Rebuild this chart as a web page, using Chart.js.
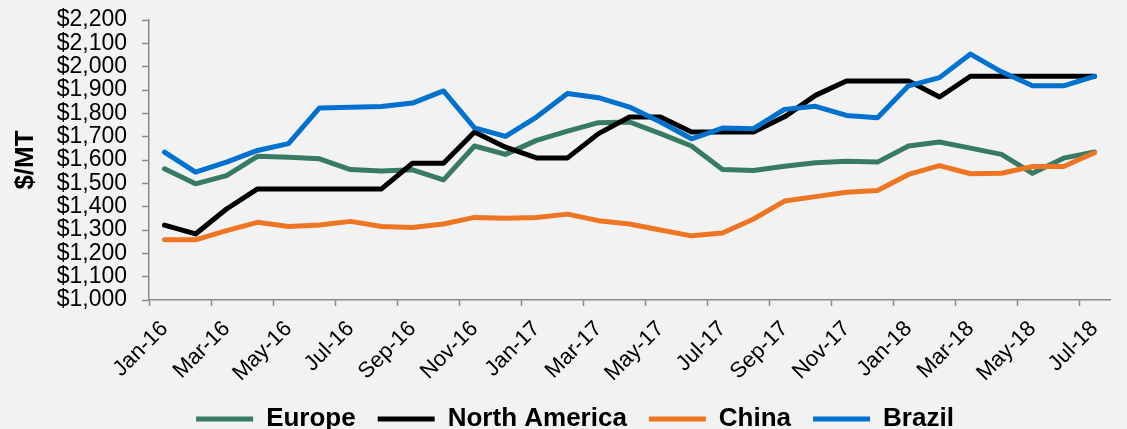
<!DOCTYPE html>
<html>
<head>
<meta charset="utf-8">
<script src="https://cdn.jsdelivr.net/npm/chart.js@4"></script>
<style>
  html, body { margin: 0; padding: 0; background: #f2f2f2; }
</style>
</head>
<body>
<canvas id="chart" width="1127" height="429"></canvas>
<script>
(() => {
  'use strict';

  // monthly labels, Jan-16 .. Jul-18
  const MONTHS = [
    'Jan-16', 'Feb-16', 'Mar-16', 'Apr-16', 'May-16', 'Jun-16', 'Jul-16', 'Aug-16', 'Sep-16', 'Oct-16', 'Nov-16', 'Dec-16',
    'Jan-17', 'Feb-17', 'Mar-17', 'Apr-17', 'May-17', 'Jun-17', 'Jul-17', 'Aug-17', 'Sep-17', 'Oct-17', 'Nov-17', 'Dec-17',
    'Jan-18', 'Feb-18', 'Mar-18', 'Apr-18', 'May-18', 'Jun-18', 'Jul-18',
  ];

  // prices in $/MT
  const EUROPE = [
    1562, 1498, 1533, 1616, 1612, 1605, 1559, 1553, 1558, 1515, 1660, 1624,
    1684, 1724, 1760, 1763, 1713, 1660, 1559, 1555, 1573, 1588, 1595, 1591,
    1660, 1677, 1651, 1624, 1543, 1608, 1634,
  ];
  const NORTH_AMERICA = [
    1321, 1283, 1390, 1476, 1476, 1476, 1476, 1476, 1586, 1586, 1720, 1655,
    1609, 1609, 1713, 1784, 1784, 1720, 1720, 1720, 1785, 1877, 1939, 1939,
    1939, 1870, 1959, 1959, 1959, 1959, 1959,
  ];
  const CHINA = [
    1258, 1258, 1297, 1333, 1315, 1321, 1337, 1315, 1311, 1326, 1354, 1350,
    1354, 1368, 1340, 1326, 1300, 1275, 1287, 1347, 1424, 1443, 1462, 1469,
    1538, 1576, 1541, 1543, 1572, 1572, 1631,
  ];
  const BRAZIL = [
    1634, 1548, 1591, 1641, 1670, 1823, 1826, 1829, 1844, 1896, 1738, 1701,
    1784, 1885, 1867, 1827, 1763, 1691, 1737, 1734, 1817, 1830, 1791, 1781,
    1918, 1953, 2054, 1978, 1918, 1918, 1958,
  ];

  const AXIS_GRAY = '#898989';
  const FONT = 'Liberation Sans, Arial, sans-serif';

  // build a line dataset; lower order is drawn on top
  const series = (label, data, color, order) => ({
    label, data, order,
    borderColor: color,
    backgroundColor: color,
    borderWidth: 5,
    borderCapStyle: 'round',
    borderJoinStyle: 'round',
    pointRadius: 0,
    pointHoverRadius: 0,
    tension: 0,
  });

  // paint the light gray background
  const background = {
    id: 'background',
    beforeDraw: (chart) => {
      const ctx = chart.ctx;
      ctx.save();
      ctx.fillStyle = '#f2f2f2';
      ctx.fillRect(0, 0, chart.width, chart.height);
      ctx.restore();
    },
  };

  new Chart(document.getElementById('chart'), {
    type: 'line',
    data: {
      labels: MONTHS,
      datasets: [
        series('Europe', EUROPE, '#367b62', 4),
        series('North America', NORTH_AMERICA, '#000000', 3),
        series('China', CHINA, '#ee7623', 2),
        series('Brazil', BRAZIL, '#0071ce', 1),
      ],
    },
    plugins: [background],
    options: {
      responsive: false,
      animation: false,
      layout: { padding: { left: 40, right: 17, top: 20, bottom: -13 } },

      scales: {
        x: {
          offset: true,
          afterFit: (scale) => { scale.height = 84; },
          border: { color: AXIS_GRAY, width: 1.5 },
          grid: {
            offset: true,
            drawOnChartArea: false,
            tickLength: 6,
            tickWidth: 1.5,
            // tick marks only every second month
            tickColor: (ctx) => (ctx.index % 2 === 0 ? AXIS_GRAY : 'rgba(0,0,0,0)'),
          },
          ticks: {
            autoSkip: false,
            maxRotation: 45,
            minRotation: 45,
            padding: 10,
            color: '#000',
            font: { family: FONT, size: 22 },
            callback: (v, i) => (i % 2 === 0 ? MONTHS[i] : ''),
          },
        },

        y: {
          min: 1000,
          max: 2200,
          afterFit: (scale) => { scale.width = 109; },
          border: { color: AXIS_GRAY, width: 1.5 },
          grid: {
            drawOnChartArea: false,
            // long tick slot, only the 7px next to the axis is drawn:
            // keeps the labels away from the axis
            tickLength: 22,
            tickBorderDash: [7, 15],
            tickBorderDashOffset: 7,
            tickWidth: 1.5,
            tickColor: AXIS_GRAY,
          },
          ticks: {
            autoSkip: false,
            stepSize: 100,
            padding: 0,
            color: '#000',
            font: { family: FONT, size: 23 },
            callback: (v) => '$' + v.toLocaleString('en-US'),
          },
          title: {
            display: true,
            text: '$/MT',
            color: '#000',
            padding: { top: -30 },
            font: { family: FONT, size: 26, weight: 'bold' },
          },
        },
      },

      plugins: {
        legend: {
          position: 'bottom',
          reverse: true,
          labels: {
            usePointStyle: true,
            pointStyle: 'line',
            pointStyleWidth: 57,
            padding: 22,
            color: '#000',
            font: { family: FONT, size: 26, weight: 'bold' },
          },
        },
        tooltip: { enabled: false },
      },
    },
  });
})();
</script>
</body>
</html>
